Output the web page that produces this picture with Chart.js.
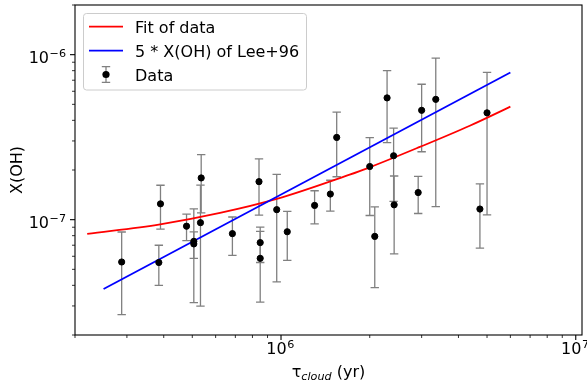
<!DOCTYPE html>
<html>
<head>
<meta charset="utf-8">
<script src="https://cdn.jsdelivr.net/npm/chart.js"></script>
<style>
  html, body { margin: 0; padding: 0; background: #fff; }
  canvas { display: block; }
</style>
</head>
<body>
<canvas id="ohChart" width="587" height="384"></canvas>
<script>
// observed clouds: age (yr), X(OH) and its 1-sigma error
const tauCloud = [2.88e5, 3.9e5, 3.85e5, 4.78e5, 5.06e5, 5.06e5, 5.36e5, 5.33e5,
                  6.84e5, 8.42e5, 8.5e5, 8.5e5, 9.67e5, 1.05e6, 1.3e6, 1.47e6, 1.545e6,
                  2.0e6, 2.08e6, 2.29e6, 2.41e6, 2.42e6, 2.92e6, 3.0e6, 3.35e6,
                  4.73e6, 5.0e6];
const xOH = [5.54e-8, 1.247e-7, 5.5e-8, 9.13e-8, 7.39e-8, 7.13e-8, 1.79e-7, 9.59e-8,
             8.23e-8, 1.7e-7, 7.26e-8, 5.83e-8, 1.15e-7, 8.45e-8, 1.22e-7, 1.43e-7, 3.15e-7,
             2.1e-7, 7.92e-8, 5.47e-7, 2.44e-7, 1.23e-7, 1.46e-7, 4.6e-7, 5.36e-7,
             1.16e-7, 4.44e-7];
const xOHErr = [2.88e-8, 3.7e-8, 1.5e-8, 1.67e-8, 4.25e-8, 1.3e-8, 6.9e-8, 6.6e-8,
                2.15e-8, 6.35e-8, 1.76e-8, 2.67e-8, 7.3e-8, 2.78e-8, 2.77e-8, 3.04e-8, 1.33e-7,
                1.04e-7, 4.05e-8, 2.54e-7, 1.15e-7, 6.1e-8, 3.7e-8, 2.02e-7, 4.16e-7,
                4.87e-8, 3.37e-7];

// red curve
const fitTau = [2.2e5, 3.89e5, 6.21e5, 9.67e5, 1.71e6, 1.95e6, 2.96e6, 4.37e6, 6.0e6];
const fitXOH = [8.19e-8, 9.36e-8, 1.098e-7, 1.335e-7, 1.874e-7, 2.04e-7, 2.76e-7, 3.71e-7, 4.84e-7];

// blue line (straight in log-log)
const leeTau = [2.5e5, 6.0e6];
const leeXOH = [3.8e-8, 7.8e-7];

const xMajor = [1e6, 1e7];
const yMajor = [1e-7, 1e-6];
const xLimits = [2e5, 1.05e7];
const yLimits = [2e-8, 2e-6];

const FONT = '"DejaVu Sans", sans-serif';

function toPoints(xs, ys) {
    return xs.map((x, i) => ({ x: x, y: ys[i] }));
}

function minorTicks(lo, hi) {
    const out = [];
    for (let e = Math.floor(Math.log10(lo)); e <= Math.ceil(Math.log10(hi)); e++) {
        for (let m = 2; m <= 9; m++) {
            const v = m * Math.pow(10, e);
            if (v >= lo * 0.999 && v <= hi * 1.001) out.push(v);
        }
    }
    return out;
}

function expParts(ctx, v) {
    const e = Math.round(Math.log10(v));
    const expText = (e < 0 ? '\u2212' : '') + Math.abs(e);
    ctx.font = '16px ' + FONT;
    const wb = ctx.measureText('10').width;
    ctx.font = '11.2px ' + FONT;
    const we = ctx.measureText(expText).width;
    return { expText, wb, we };
}

// error bars under the markers
const errorBars = {
    id: 'errorBars',
    beforeDatasetsDraw(chart) {
        const { ctx, chartArea, scales } = chart;
        ctx.save();
        ctx.beginPath();
        ctx.rect(chartArea.left, chartArea.top, chartArea.right - chartArea.left, chartArea.bottom - chartArea.top);
        ctx.clip();
        ctx.strokeStyle = '#808080';
        ctx.lineWidth = 1.3;
        tauCloud.forEach((t, i) => {
            const px = scales.x.getPixelForValue(t);
            const top = scales.y.getPixelForValue(xOH[i] + xOHErr[i]);
            const bot = scales.y.getPixelForValue(Math.max(xOH[i] - xOHErr[i], 1e-12));
            ctx.beginPath();
            ctx.moveTo(px, top); ctx.lineTo(px, bot);
            ctx.moveTo(px - 4.2, top); ctx.lineTo(px + 4.2, top);
            ctx.moveTo(px - 4.2, bot); ctx.lineTo(px + 4.2, bot);
            ctx.stroke();
        });
        ctx.restore();
    }
};

// frame, ticks, tick labels, axis titles, legend
const decor = {
    id: 'decor',
    afterDraw(chart) {
        const { ctx, chartArea: a, scales } = chart;
        ctx.save();
        ctx.strokeStyle = '#000';
        ctx.lineWidth = 1.1;
        ctx.strokeRect(a.left, a.top, a.right - a.left, a.bottom - a.top);

        // x ticks
        xMajor.forEach(v => {
            const px = scales.x.getPixelForValue(v);
            ctx.lineWidth = 1.1;
            ctx.beginPath(); ctx.moveTo(px, a.bottom); ctx.lineTo(px, a.bottom + 5); ctx.stroke();
            const p = expParts(ctx, v);
            const left = px - (p.wb + p.we) / 2 - 1;
            ctx.fillStyle = '#000';
            ctx.textAlign = 'left';
            ctx.textBaseline = 'alphabetic';
            ctx.font = '16px ' + FONT;
            ctx.fillText('10', left, a.bottom + 19);
            ctx.font = '11.2px ' + FONT;
            ctx.fillText(p.expText, left + p.wb + 0.5, a.bottom + 13.3);
        });
        minorTicks(xLimits[0], xLimits[1]).forEach(v => {
            const px = scales.x.getPixelForValue(v);
            ctx.lineWidth = 0.8;
            ctx.beginPath(); ctx.moveTo(px, a.bottom); ctx.lineTo(px, a.bottom + 3); ctx.stroke();
        });

        // y ticks
        yMajor.forEach(v => {
            const py = scales.y.getPixelForValue(v);
            ctx.lineWidth = 1.1;
            ctx.beginPath(); ctx.moveTo(a.left, py); ctx.lineTo(a.left - 5, py); ctx.stroke();
            const p = expParts(ctx, v);
            const right = a.left - 9;
            ctx.fillStyle = '#000';
            ctx.textAlign = 'left';
            ctx.textBaseline = 'alphabetic';
            ctx.font = '16px ' + FONT;
            ctx.fillText('10', right - p.we - p.wb - 0.5, py + 8);
            ctx.font = '11.2px ' + FONT;
            ctx.fillText(p.expText, right - p.we, py + 2.4);
        });
        minorTicks(yLimits[0], yLimits[1]).forEach(v => {
            const py = scales.y.getPixelForValue(v);
            ctx.lineWidth = 0.8;
            ctx.beginPath(); ctx.moveTo(a.left, py); ctx.lineTo(a.left - 3, py); ctx.stroke();
        });

        // y title
        ctx.save();
        ctx.translate(21.5, (a.top + a.bottom) / 2);
        ctx.rotate(-Math.PI / 2);
        ctx.font = '16px ' + FONT;
        ctx.textAlign = 'center';
        ctx.textBaseline = 'alphabetic';
        ctx.fillText('X(OH)', 0, 0);
        ctx.restore();

        // x title: tau_cloud (yr)
        ctx.font = '16px ' + FONT;
        const wTau = ctx.measureText('\u03c4').width;
        const wYr = ctx.measureText(' (yr)').width;
        ctx.font = 'italic 11.2px ' + FONT;
        const wSub = ctx.measureText('cloud').width;
        let tx = (a.left + a.right) / 2 - (wTau + wSub + wYr) / 2;
        const base = 377;
        ctx.textAlign = 'left';
        ctx.font = '16px ' + FONT;
        ctx.fillText('\u03c4', tx, base);
        tx += wTau;
        ctx.font = 'italic 11.2px ' + FONT;
        ctx.fillText('cloud', tx, base + 2.5);
        tx += wSub;
        ctx.font = '16px ' + FONT;
        ctx.fillText(' (yr)', tx, base);

        // legend
        const ds = chart.data.datasets;
        ctx.beginPath();
        ctx.roundRect(83.5, 13.5, 223, 76.5, 3);
        ctx.fillStyle = 'rgba(255,255,255,0.8)';
        ctx.fill();
        ctx.strokeStyle = '#cccccc';
        ctx.lineWidth = 1;
        ctx.stroke();
        const rows = [26.7, 50.7, 74.7];
        [ds[2], ds[1]].forEach((d, k) => {
            ctx.strokeStyle = d.borderColor;
            ctx.lineWidth = d.borderWidth;
            ctx.beginPath(); ctx.moveTo(89, rows[k]); ctx.lineTo(123, rows[k]); ctx.stroke();
        });
        ctx.strokeStyle = '#808080';
        ctx.lineWidth = 1.3;
        ctx.beginPath();
        ctx.moveTo(106, 66.7); ctx.lineTo(106, 82.3);
        ctx.moveTo(101.8, 66.7); ctx.lineTo(110.2, 66.7);
        ctx.moveTo(101.8, 82.3); ctx.lineTo(110.2, 82.3);
        ctx.stroke();
        ctx.fillStyle = '#000';
        ctx.beginPath(); ctx.arc(106, 74.5, 3.6, 0, Math.PI * 2); ctx.fill();
        ctx.font = '16px ' + FONT;
        ctx.fillStyle = '#000';
        [ds[2].label, ds[1].label, ds[0].label].forEach((t, k) => {
            ctx.fillText(t, 135, rows[k] + 6);
        });
        ctx.restore();
    }
};

new Chart(document.getElementById('ohChart'), {
    type: 'scatter',
    data: {
        datasets: [
            {
                label: 'Data',
                data: toPoints(tauCloud, xOH),
                pointRadius: 3.1,
                pointBorderWidth: 1,
                pointBackgroundColor: '#000',
                pointBorderColor: '#000',
                order: 0
            },
            {
                label: '5 * X(OH) of Lee+96',
                data: toPoints(leeTau, leeXOH),
                showLine: true,
                borderColor: '#0000ff',
                borderWidth: 1.8,
                pointRadius: 0,
                order: 1
            },
            {
                label: 'Fit of data',
                data: toPoints(fitTau, fitXOH),
                showLine: true,
                borderColor: '#ff0000',
                borderWidth: 1.8,
                pointRadius: 0,
                cubicInterpolationMode: 'monotone',
                order: 2
            }
        ]
    },
    options: {
        responsive: false,
        animation: false,
        devicePixelRatio: 1,
        layout: { padding: { left: 75, top: 5, right: 5, bottom: 49 } },
        plugins: { legend: { display: false }, tooltip: { enabled: false } },
        scales: {
            x: { type: 'logarithmic', min: xLimits[0], max: xLimits[1], display: false },
            y: { type: 'logarithmic', min: yLimits[0], max: yLimits[1], display: false }
        }
    },
    plugins: [errorBars, decor]
});
</script>
</body>
</html>
